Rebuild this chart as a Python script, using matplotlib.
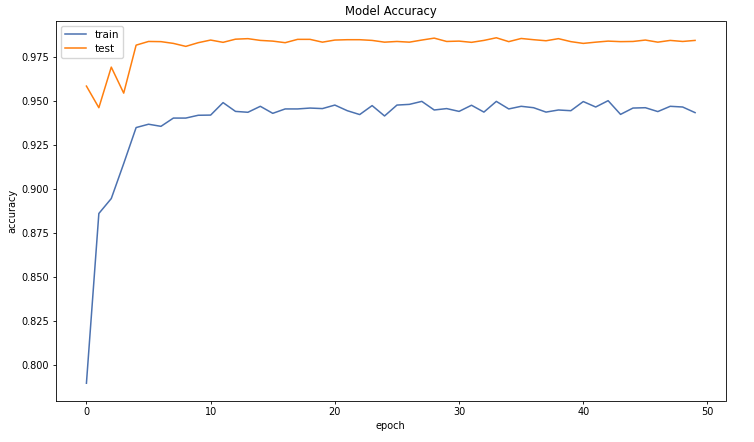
import matplotlib
matplotlib.use("Agg")
import matplotlib.pyplot as plt

epochs = list(range(50))
train_acc = [0.7894, 0.8860, 0.8945, 0.9144, 0.9349, 0.9368, 0.9356, 0.9403, 0.9403, 0.9419,
             0.9420, 0.9491, 0.9441, 0.9436, 0.9470, 0.9430, 0.9455, 0.9455, 0.9460, 0.9457,
             0.9477, 0.9445, 0.9423, 0.9474, 0.9415, 0.9477, 0.9481, 0.9498, 0.9449, 0.9457,
             0.9441, 0.9476, 0.9437, 0.9498, 0.9455, 0.9470, 0.9462, 0.9437, 0.9449, 0.9445,
             0.9497, 0.9466, 0.9502, 0.9424, 0.9460, 0.9462, 0.9440, 0.9470, 0.9466, 0.9434]
test_acc = [0.9585, 0.9462, 0.9693, 0.9545, 0.9818, 0.9839, 0.9838, 0.9828, 0.9811, 0.9832,
            0.9847, 0.9834, 0.9852, 0.9855, 0.9845, 0.9841, 0.9832, 0.9851, 0.9851, 0.9835,
            0.9847, 0.9849, 0.9849, 0.9845, 0.9835, 0.9839, 0.9835, 0.9847, 0.9858, 0.9839,
            0.9841, 0.9834, 0.9845, 0.9860, 0.9838, 0.9856, 0.9849, 0.9843, 0.9855, 0.9838,
            0.9828, 0.9835, 0.9841, 0.9838, 0.9839, 0.9847, 0.9835, 0.9845, 0.9839, 0.9845]

plt.rcParams['font.family'] = ['DejaVu Sans']
plt.rcParams['font.size'] = 7

fig = plt.figure(figsize=(7.54, 4.42), dpi=100)
ax = fig.add_axes([56 / 754, (442 - 400.5) / 442, (725.5 - 56) / 754, (400.5 - 20.5) / 442])
ax.plot(epochs, train_acc, color='#4c72b0', linewidth=1.1, label='train')
ax.plot(epochs, test_acc, color='#ff7f0e', linewidth=1.1, label='test')
ax.set_title('Model Accuracy', fontsize=8.4, pad=4)
ax.set_xlabel('epoch', fontsize=7, labelpad=2.5)
ax.set_ylabel('accuracy', fontsize=7, labelpad=2.5)
ax.tick_params(labelsize=7, length=2.5, width=0.6, pad=2.5)
for s in ax.spines.values():
    s.set_linewidth(0.6)
ax.legend(loc='upper left', fontsize=7.5, handlelength=2.0, borderpad=0.4, labelspacing=0.35)
fig.savefig('out.png', dpi=100)
